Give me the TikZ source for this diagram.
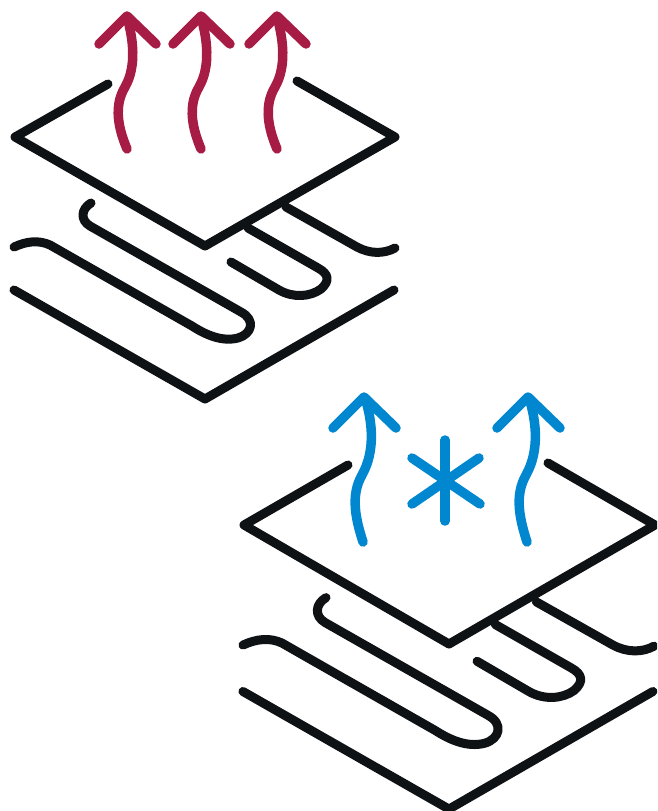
\documentclass[tikz,border=0pt]{standalone}
\definecolor{inkblack}{HTML}{0E1215}
\definecolor{heatred}{HTML}{A71C45}
\definecolor{coolblue}{HTML}{0087CF}
\tikzset{
  lay/.style={draw=inkblack,line width=9pt,line cap=round,line join=round},
  heatline/.style={draw=heatred,line width=9.5pt,line cap=round,line join=round},
  coolline/.style={draw=coolblue,line width=9.5pt,line cap=round,line join=round},
  pics/floorheat/.style={code={
    \draw[lay] (14,290) -- (205,399) -- (394,290);
    \draw[lay] (14,247) .. controls (27,241) and (39,240) .. (50,245) -- (192,326)
      .. controls (206,335) and (222,342) .. (238,338) .. controls (252,334) and (256,320) .. (241,312)
      -- (90,226) .. controls (80,220) and (81,209) .. (91,203);
    \draw[lay] (231,262) -- (279,290) .. controls (293,298) and (310,297) .. (321,289)
      .. controls (330,281) and (329,274) .. (318,268) -- (248,228);
    \draw[lay] (286,207) -- (357,247) .. controls (370,254) and (384,254) .. (395,248);
  }}
}
\begin{document}
\begin{tikzpicture}[x=1pt,y=-1pt]
\useasboundingbox (0,0) rectangle (657,811);
\begin{scope}
\clip (0,0) rectangle (657,811);
% top unit
\pic at (0,0) {floorheat};
\draw[lay] (108,84) -- (15,137) -- (205,246) -- (395,137) -- (297,81);
\foreach \d in {0,74,150}{
  \begin{scope}[xshift=\d pt]
    \draw[heatline] (99,44) -- (127,16) -- (156,44);
    \draw[heatline] (127,17) .. controls (133,38) and (137,66) .. (125,87)
      .. controls (113,107) and (119,130) .. (127,149);
  \end{scope}
}
% bottom unit
\begin{scope}[xshift=449pt,yshift=-644pt,x=1.079pt,y=-1.079pt,shift={(-205,-246)}]
\pic {floorheat};
\end{scope}
\draw[lay] (348,465) -- (244,525) -- (449,644) -- (655,525) -- (548,463);
\foreach \d in {0,164}{
  \begin{scope}[xshift=\d pt]
    \draw[coolline] (333,428) -- (364,397) -- (396,428);
    \draw[coolline] (365,398) .. controls (372,420) and (376,450) .. (362,475)
      .. controls (350,496) and (356,520) .. (363,542);
  \end{scope}
}
\draw[coolline] (445,440) -- (445,521);
\draw[coolline] (412,458) -- (480,504);
\draw[coolline] (412,504) -- (479,458);
\end{scope}
\end{tikzpicture}
\end{document}
